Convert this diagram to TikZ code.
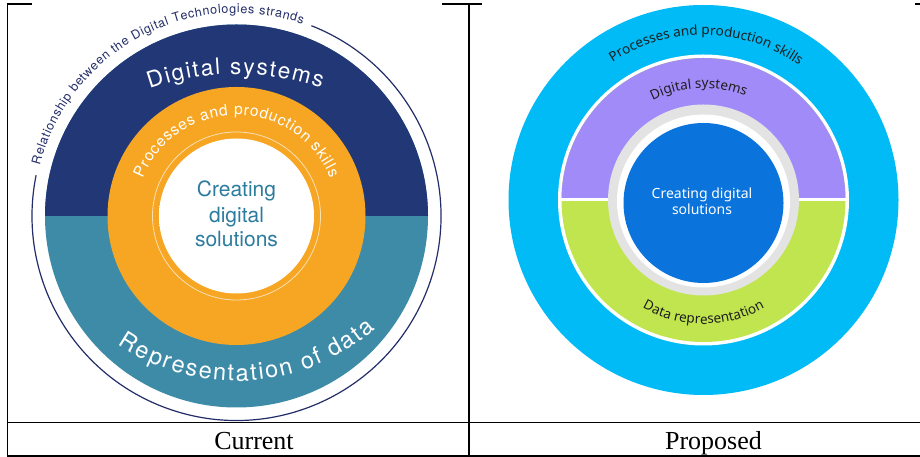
\documentclass[tikz,border=0pt]{standalone}
\usepackage{fontspec}
\setmainfont{Liberation Serif}
\newfontfamily\heros{TeX Gyre Heros}
\newfontfamily\rob{Noto Sans}
\usetikzlibrary{decorations.text}
\definecolor{navyA}{RGB}{33,55,118}
\definecolor{tealA}{RGB}{62,139,168}
\definecolor{orangeA}{RGB}{246,166,35}
\definecolor{ctextA}{RGB}{44,124,158}
\definecolor{lineA}{RGB}{35,45,105}
\definecolor{cyanB}{RGB}{0,187,245}
\definecolor{purpleB}{RGB}{161,139,248}
\definecolor{greenB}{RGB}{193,229,78}
\definecolor{grayB}{RGB}{227,227,227}
\definecolor{blueB}{RGB}{10,116,220}
\definecolor{textB}{RGB}{30,30,30}
\pgfdeclareradialshading{discshade}{\pgfpoint{5bp}{-5bp}}{color(0bp)=(white); color(34bp)=(white); color(44bp)=(black!6); color(52bp)=(black!25)}
\tikzset{
  tbl/.style={line width=1.8pt, black},
  ctext/.style={decorate, decoration={text along path, text align=center, text color=textB}},
}
\begin{document}
\begin{tikzpicture}[x=1pt,y=1pt]
\useasboundingbox (0,0) rectangle (920,457);
\fill[white] (0,0) rectangle (920,457);
\coordinate (cl) at (236.5,241);
\coordinate (cr) at (703.5,257);
\coordinate (tl1) at (236.5,123);
\coordinate (tl2) at (236.5,286);
% ---------- left diagram ----------
\fill[tealA] (cl) circle[radius=191.5];
\fill[navyA] ([shift={(0:191.5)}]cl) arc[start angle=0,end angle=180,radius=191.5] -- cycle;
\fill[orangeA] (cl) circle[radius=129];
\draw[orangeA!35!white, line width=0.8pt] (cl) circle[radius=84];
\shade[shading=discshade] (cl) circle[radius=77.5];
\draw[lineA, line width=1.2pt] ([shift={(68.5:204.5)}]cl) arc[start angle=68.5,end angle=-191.5,radius=204.5];
\path[decorate, decoration={text along path, text align={fit to path}, text color=lineA,
  text={|\heros\fontsize{12.5}{12.5}\selectfont|Relationship between the Digital Technologies strands}}]
  ([shift={(165.5:203)}]cl) arc[start angle=165.5,end angle=71,radius=203];
\path[decorate, decoration={text along path, text align={fit to path}, text color=white,
  text={|\heros\fontsize{22.5}{22.5}\selectfont|Digital systems}}]
  ([shift={(109.5:260)}]tl1) arc[start angle=109.5,end angle=71,radius=260];
\path[decorate, decoration={text along path, text align={fit to path}, text color=white,
  text={|\heros\fontsize{15.5}{15.5}\selectfont|Processes and production skills}}]
  ([shift={(158:101)}]cl) arc[start angle=158,end angle=22,radius=101];
\path[decorate, decoration={text along path, text align={fit to path}, text color=white,
  text={|\heros\fontsize{23.5}{23.5}\selectfont|Representation of data}}]
  ([shift={(235.6:210)}]tl2) arc[start angle=235.6,end angle=311.3,radius=210];
\node[font=\heros\fontsize{21}{21}\selectfont, text=ctextA, anchor=base, inner sep=0] (l1) at (236.5,260) {Creating};
\node[font=\heros\fontsize{21}{21}\selectfont, text=ctextA, anchor=base, inner sep=0] (l2) at (236.5,234) {digital};
\node[font=\heros\fontsize{21}{21}\selectfont, text=ctextA, anchor=base, inner sep=0] (l3) at (236.5,210) {solutions};
% ---------- right diagram ----------
\fill[cyanB] (cr) circle[radius=195];
\fill[white] (cr) circle[radius=145.5];
\fill[greenB] (cr) circle[radius=142];
\fill[purpleB] ([shift={(0:142)}]cr) arc[start angle=0,end angle=180,radius=142] -- cycle;
\draw[white, line width=3pt] ([shift={(180:144)}]cr) -- ([shift={(0:144)}]cr);
\fill[grayB] (cr) circle[radius=95.5];
\fill[white] ([yshift=-1pt]cr) circle[radius=86.5];
\fill[blueB] ([yshift=-3pt]cr) circle[radius=80];
\path[ctext, decoration={text={|\rob\fontsize{13.5}{13.5}\selectfont|Processes and production skills}}]
  ([shift={(123:165)}]cr) arc[start angle=123,end angle=55,radius=165];
\path[ctext, decoration={text={|\rob\fontsize{13.5}{13.5}\selectfont|Digital systems}}]
  ([shift={(117:112)}]cr) arc[start angle=117,end angle=68,radius=112];
\path[ctext, decoration={text={|\rob\fontsize{13.5}{13.5}\selectfont|Data representation}}]
  ([shift={(238:124)}]cr) arc[start angle=238,end angle=302,radius=124];
\node[font=\rob\bfseries\fontsize{14}{14}\selectfont, text=white, anchor=base, inner sep=0] (r1) at (702,258.5) {Creating digital};
\node[font=\rob\bfseries\fontsize{14}{14}\selectfont, text=white, anchor=base, inner sep=0] (r2) at (702,242) {solutions};
% ---------- table ----------
\draw[tbl] (7.5,0.2) -- (7.5,453.9);
\draw[tbl] (469,0.2) -- (469,453.9);
\draw[tbl] (6.6,453) -- (32,453);
\draw[tbl] (442,453) -- (482,453);
\draw[tbl] (915,453) -- (920,453);
\draw[tbl] (6.6,34.5) -- (920,34.5);
\draw[tbl] (6.6,1) -- (920,1);
\node[font=\fontsize{26}{26}\selectfont, anchor=base, inner sep=0] (cap1) at (254,7) {Current};
\node[font=\fontsize{26}{26}\selectfont, anchor=base, inner sep=0] (cap2) at (713.5,7) {Proposed};
\end{tikzpicture}
\end{document}
